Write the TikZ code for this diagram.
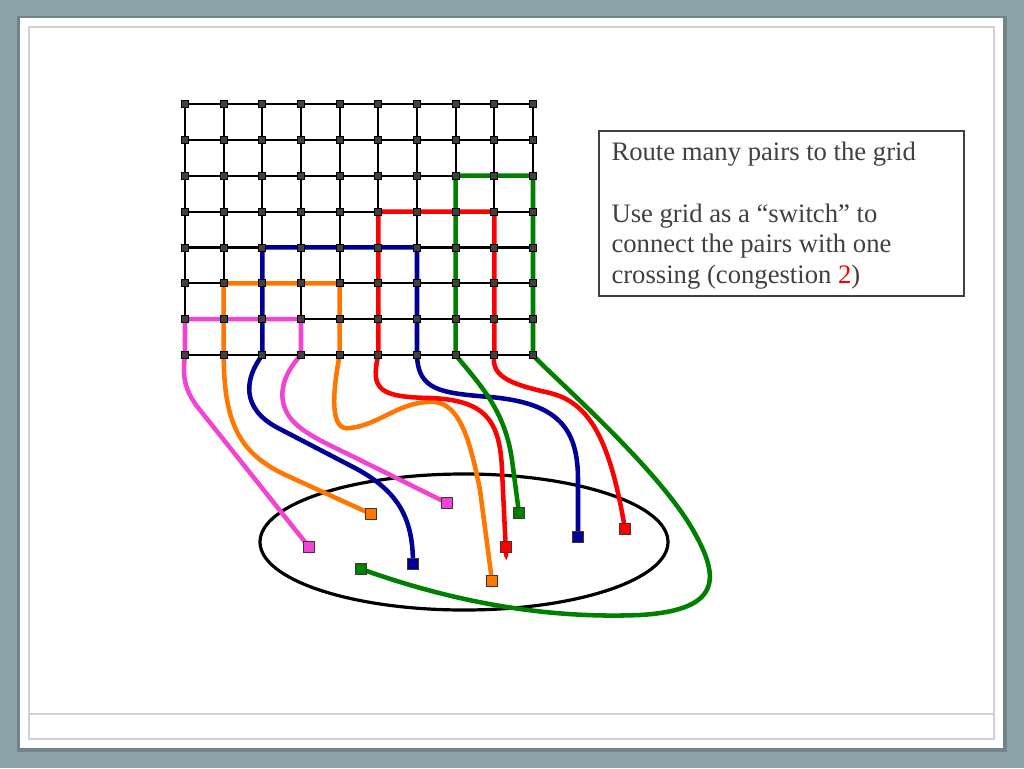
\documentclass[tikz,border=0pt]{standalone}
\usepackage{fontspec}
\setmainfont{Liberation Serif}
\usetikzlibrary{backgrounds,arrows.meta}

\definecolor{slidebg}{RGB}{139,163,169}
\definecolor{slideshadow}{RGB}{112,132,138}
\definecolor{framegray}{RGB}{210,210,210}
\definecolor{textgray}{RGB}{64,64,64}
\definecolor{wirepink}{RGB}{240,68,210}
\definecolor{wireorange}{RGB}{255,119,0}
\definecolor{wireblue}{RGB}{0,0,150}
\definecolor{wirered}{RGB}{255,0,0}
\definecolor{wiregreen}{RGB}{0,128,0}

\tikzset{every picture/.style={line width=0.75pt}}
\tikzset{
  gridpt/.style={draw=black, fill={rgb,255:red,64;green,64;blue,64}, line width=0.6pt, minimum size=5.2pt, inner sep=0pt},
  port/.style={draw={rgb,255:red,70;green,50;blue,50}, line width=0.6pt, minimum size=8.5pt, inner sep=0pt},
  gridline/.style={line width=1.6pt, black},
  wire/.style={line width=3.4pt, line join=round, line cap=round},
  notetext/.style={anchor=base west, inner sep=0pt, text=textgray, font=\fontsize{20}{23}\selectfont}
}

\begin{document}
\begin{tikzpicture}[x=0.75pt,y=0.75pt,yscale=-1,xscale=1]
\useasboundingbox (0,0) rectangle (1024,768);

%Grid: nodes
\foreach \i in {0,...,9}
  \foreach \j in {0,...,7}
    \node[gridpt] (g-\i-\j) at ({185+38.667*\i},{104+35.857*\j}) {};

%Terminals in the ellipse
\node[port, fill=wirepink] (pinkA) at (309,547) {};
\node[port, fill=wirepink] (pinkB) at (447,503) {};
\node[port, fill=wireorange] (orangeA) at (371,514) {};
\node[port, fill=wireorange] (orangeB) at (492,581) {};
\node[port, fill=wireblue] (blueA) at (413,564) {};
\node[port, fill=wireblue] (blueB) at (578,537) {};
\node[port, fill=wirered] (redA) at (506,547) {};
\node[port, fill=wirered] (redB) at (625,529) {};
\node[port, fill=wiregreen] (greenA) at (519,513) {};
\node[port, fill=wiregreen] (greenB) at (361,569) {};

% Text Node
\node[notetext] (title) at (611,160) {Route many pairs to the grid};
% Text Node
\node[notetext] (lineA) at (611,222) {Use grid as a “switch” to};
% Text Node
\node[notetext] (lineB) at (611,252.5) {connect the pairs with one};
% Text Node
\node[notetext] (lineC) at (611,283) {crossing (congestion \textcolor{red}{2})};

\begin{scope}[on background layer]
%Slide
\fill[slidebg] (0,0) rectangle (1024,768);
\fill[slideshadow] (17,16) rectangle (1007,752);
\fill[white] (20,18) rectangle (1003,748);
\draw[framegray, line width=1.5pt] (29,27) rectangle (994,739);
\draw[framegray, line width=1.5pt] (29,714) -- (994,714);

%Shape: Rectangle
\draw[textgray, line width=1pt] (599,131) rectangle (964,296);

%Grid: lines
\foreach \j in {0,...,7}
  \draw[gridline] (g-0-\j.center) -- (g-9-\j.center);
\foreach \i in {0,...,9}
  \draw[gridline] (g-\i-0.center) -- (g-\i-7.center);

%Shape: Ellipse
\draw[line width=2.4pt] (464,542) ellipse [x radius=204, y radius=68];

%Wires
\draw[wire, wirepink] (pinkA.center) -- (196,405) .. controls (186,390) and (182,380) .. (g-0-7.center) -- (g-0-6.center) -- (g-3-6.center) -- (g-3-7.center) .. controls (282,375) and (275,400) .. (292,420) .. controls (305,435) and (330,445) .. (360,460) -- (pinkB.center);
\draw[wire, wireorange] (orangeA.center) -- (290,477) .. controls (240,455) and (224,425) .. (g-1-7.center) -- (g-1-5.center) -- (g-4-5.center) -- (g-4-7.center) .. controls (332,395) and (330,432) .. (350,428) .. controls (380,425) and (400,400) .. (435,402) .. controls (460,405) and (470,440) .. (480,490) -- (orangeB.center);
\draw[wire, wireblue] (blueA.center) .. controls (413,520) and (400,492) .. (355,468) -- (278,428) .. controls (240,408) and (245,378) .. (g-2-7.center) -- (g-2-4.center) -- (g-6-4.center) -- (g-6-7.center) .. controls (418,390) and (440,393) .. (490,397) .. controls (560,403) and (578,430) .. (578,480) -- (blueB.center);
\draw[wire, wirered, -{Triangle[width=2.5pt,length=7pt]}, shorten >=-8pt] (redB.center) .. controls (610,440) and (590,403) .. (550,393) .. controls (515,385) and (490,378) .. (g-8-7.center) -- (g-8-3.center) -- (g-5-3.center) -- (g-5-7.center) .. controls (370,390) and (380,397) .. (430,398) .. controls (485,400) and (500,420) .. (502,470) -- (redA.south);
\draw[wire, wiregreen] (greenA.center) -- (512,460) .. controls (505,410) and (480,385) .. (g-7-7.center) -- (g-7-2.center) -- (g-9-2.center) -- (g-9-7.center) .. controls (545,370) and (650,460) .. (690,525) .. controls (720,575) and (725,610) .. (640,615) .. controls (520,620) and (420,590) .. (greenB.center);
\end{scope}

\end{tikzpicture}
\end{document}
